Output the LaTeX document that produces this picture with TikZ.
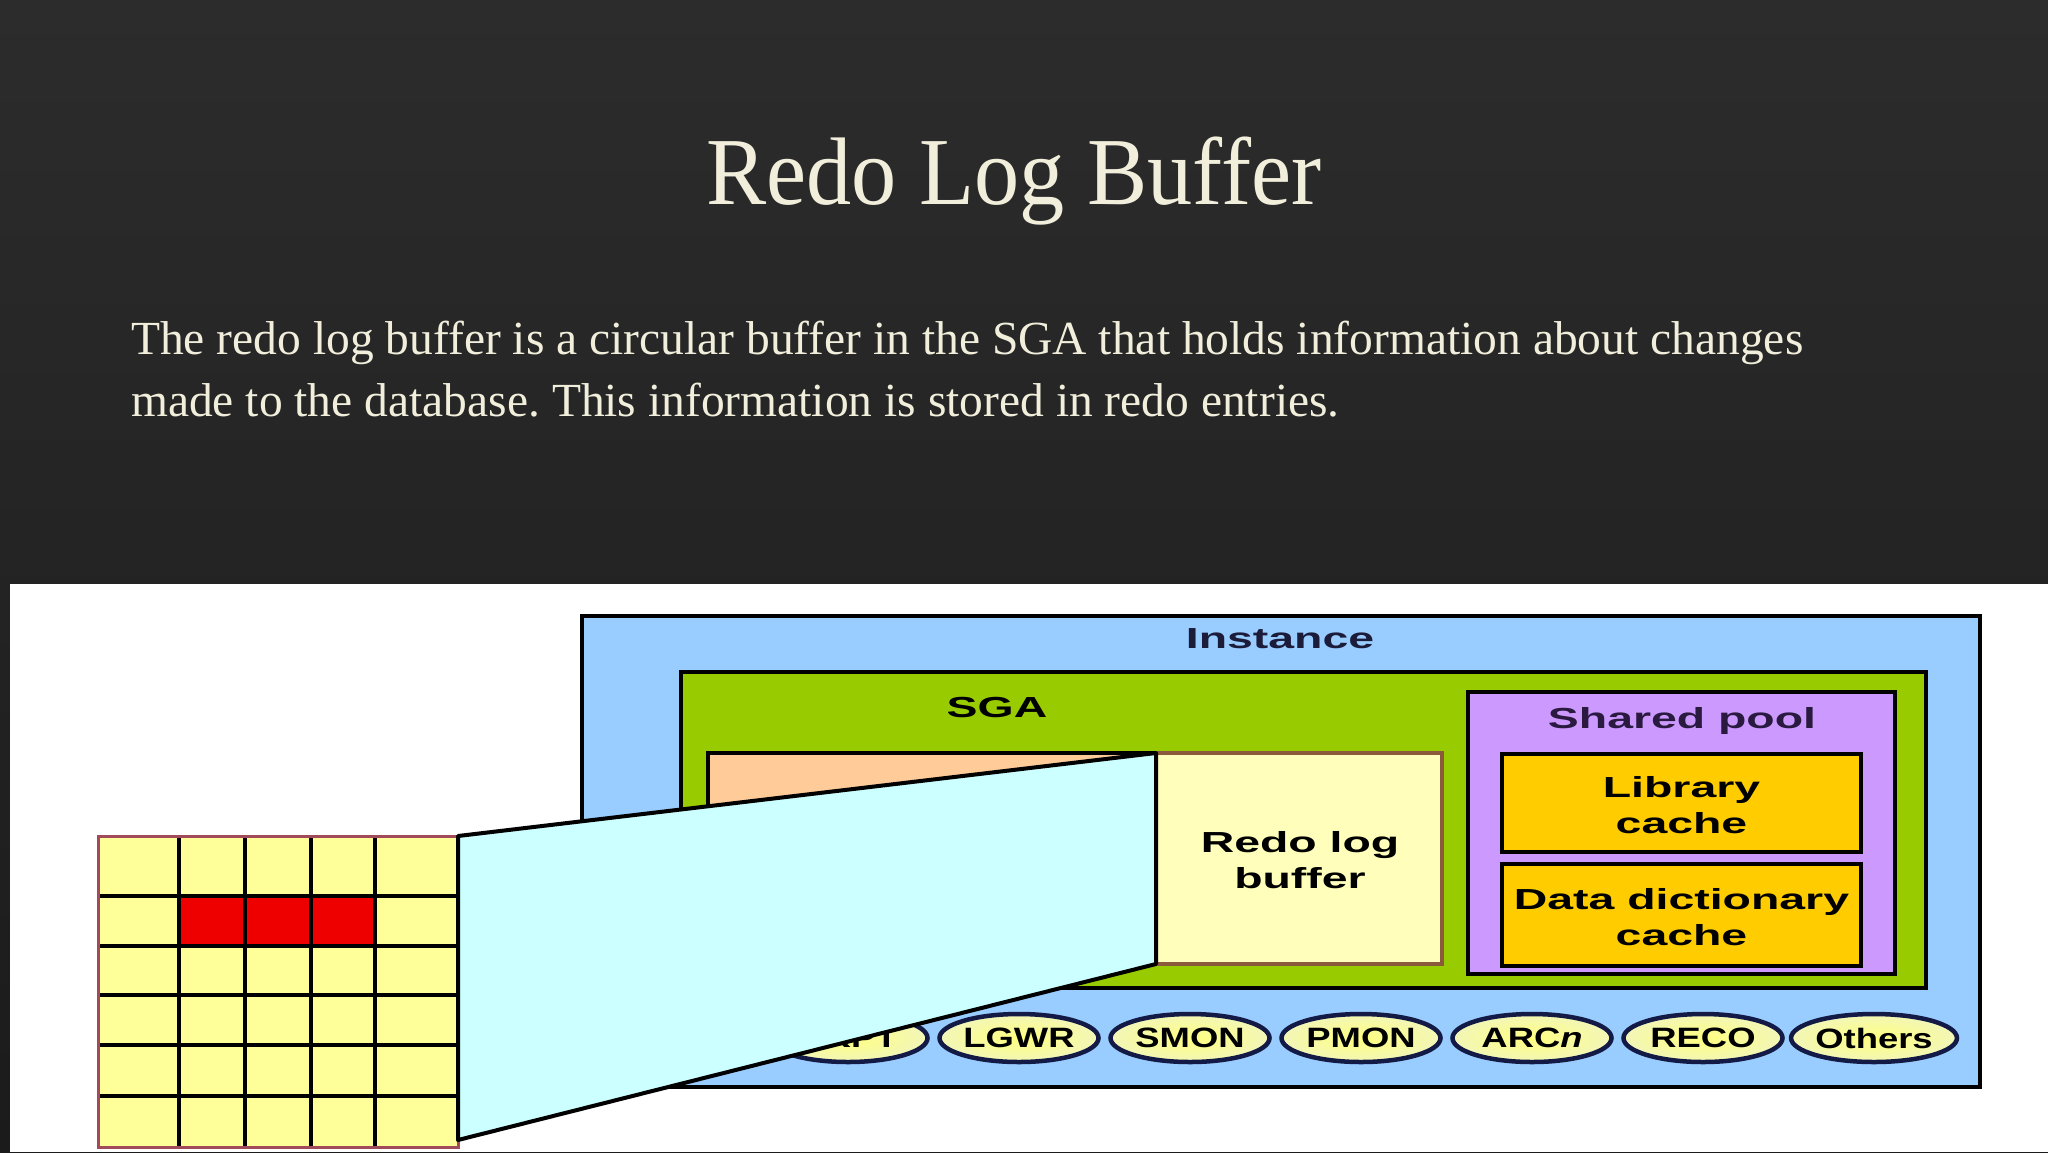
\documentclass[tikz,border=0pt]{standalone}
\usepackage{fontspec}
\usepackage{graphicx}
\setmainfont{Liberation Serif}
\setsansfont{Liberation Sans}
\usetikzlibrary{shapes.geometric}
\definecolor{bgtop}{HTML}{2C2C2C}
\definecolor{bgbot}{HTML}{1B1B1B}
\definecolor{cream}{HTML}{F1EEDB}
\definecolor{instblue}{HTML}{99CCFF}
\definecolor{sgagreen}{HTML}{99CC00}
\definecolor{peach}{HTML}{FFCC99}
\definecolor{redoyellow}{HTML}{FFFFBB}
\definecolor{redobrown}{HTML}{8B5A3C}
\definecolor{poolpurple}{HTML}{CC99FF}
\definecolor{cacheorange}{HTML}{FFCC00}
\definecolor{navy}{HTML}{131A45}
\definecolor{insttext}{HTML}{1B1B3A}
\definecolor{pooltext}{HTML}{2A1A40}
\definecolor{gridyellow}{HTML}{FFFF99}
\definecolor{ellin}{HTML}{FFFF80}
\definecolor{ellout}{HTML}{F2F6B8}
\definecolor{gridred}{HTML}{EE0000}
\definecolor{gridborder}{HTML}{A04A5A}
\definecolor{cyanlight}{HTML}{CCFFFF}
\newcommand\wx[1]{\scalebox{1.6}[1]{#1}}
\newcommand\wy[1]{\scalebox{1.3}[1]{#1}}
\frenchspacing
\begin{document}
\begin{tikzpicture}[x=1pt,y=-1pt,
  box/.style={draw=black, line width=4pt, inner sep=0pt, outer sep=0pt},
  lbl/.style={font=\sffamily\bfseries\fontsize{29}{36}\selectfont, text=black, inner sep=0pt, align=center},
  proc/.style={ellipse, draw=navy, line width=4.5pt, inner sep=0pt,
    minimum width=159pt, minimum height=48pt,
    inner color=ellin, outer color=ellout,
    font=\sffamily\bfseries\fontsize{28}{30}\selectfont},
  slidetext/.style={text=cream, inner sep=0pt}
]
\useasboundingbox (0,0) rectangle (2048,1152);
% background
\shade[top color=bgtop, bottom color=bgbot] (0,0) rectangle (2048,1152);
\fill[white] (10,584) rectangle (2048,1152);

% title and text
\node[slidetext, anchor=base, font=\fontsize{96}{110}\selectfont] (title) at (1014,204) {\scalebox{0.94}[1]{Redo Log Buffer}};
\node[slidetext, anchor=base west, font=\fontsize{47.5}{62}\selectfont] (body1) at (131,354) {The redo log buffer is a circular buffer in the SGA that holds information about changes};
\node[slidetext, anchor=base west, font=\fontsize{47.5}{62}\selectfont] (body2) at (131,416) {made to the database. This information is stored in redo entries.};

% instance and SGA
\node[box, fill=instblue, minimum width=1398pt, minimum height=471pt] (inst) at (1281,851.5) {};
\node[lbl, text=insttext, anchor=base] (instlbl) at (1280,648) {\wx{Instance}};
\node[box, fill=sgagreen, minimum width=1245pt, minimum height=316pt] (sga) at (1303.5,830) {};
\node[lbl, anchor=base] (sgalbl) at (997,717) {\wx{SGA}};
\node[box, line width=3.5pt, fill=peach, minimum width=448pt, minimum height=211pt] (cache) at (932,858.5) {};
\node[box, line width=3.5pt, draw=redobrown, fill=redoyellow, minimum width=286pt, minimum height=211pt] (redo) at (1299,858.5) {};
\node[lbl] (redolbl) at (1300,860) {\wx{Redo log}\\\wx{buffer}};
\node[box, fill=poolpurple, minimum width=427pt, minimum height=282pt] (pool) at (1681.5,833) {};
\node[lbl, text=pooltext, anchor=base] (poollbl) at (1682,728) {\wx{Shared pool}};
\node[box, fill=cacheorange, minimum width=359pt, minimum height=98pt] (lib) at (1681.5,803) {};
\node[lbl] (liblbl) at (1681.5,805) {\wx{Library}\\\wx{cache}};
\node[box, fill=cacheorange, minimum width=359pt, minimum height=102pt] (dd) at (1681.5,915) {};
\node[lbl] (ddlbl) at (1681.5,917) {\wx{Data dictionary}\\\wx{cache}};

% background processes
\node[proc] (ckpt) at (848,1038) {\wy{CKPT}};
\node[proc] (lgwr) at (1019,1038) {\wy{LGWR}};
\node[proc] (smon) at (1190,1038) {\wy{SMON}};
\node[proc] (pmon) at (1361,1038) {\wy{PMON}};
\node[proc] (arcn) at (1532,1038) {\wy{ARC\textit{n}}};
\node[proc] (reco) at (1703,1038) {\wy{RECO}};
\node[proc] (others) at (1874,1038) {\wy{Others}};

% log buffer grid
\fill[gridyellow] (98,836) rectangle (458,1147);
\fill[gridred] (179,896) rectangle (375,946);
\foreach \gx in {179,245,311,375} \draw[line width=4pt] (\gx,836) -- (\gx,1147);
\foreach \gy in {896,946,995,1045,1096} \draw[line width=4pt] (98,\gy) -- (458,\gy);
\draw[draw=gridborder, line width=3pt] (98,836) rectangle (458,1147);
\coordinate (gridtr) at (458,836);
\coordinate (gridbr) at (458,1140);

% magnifying trapezoid
\filldraw[fill=cyanlight, draw=black, line width=4pt, line join=round]
  (gridtr) -- (redo.north west) -- (redo.south west) -- (gridbr) -- cycle;
\end{tikzpicture}
\end{document}
